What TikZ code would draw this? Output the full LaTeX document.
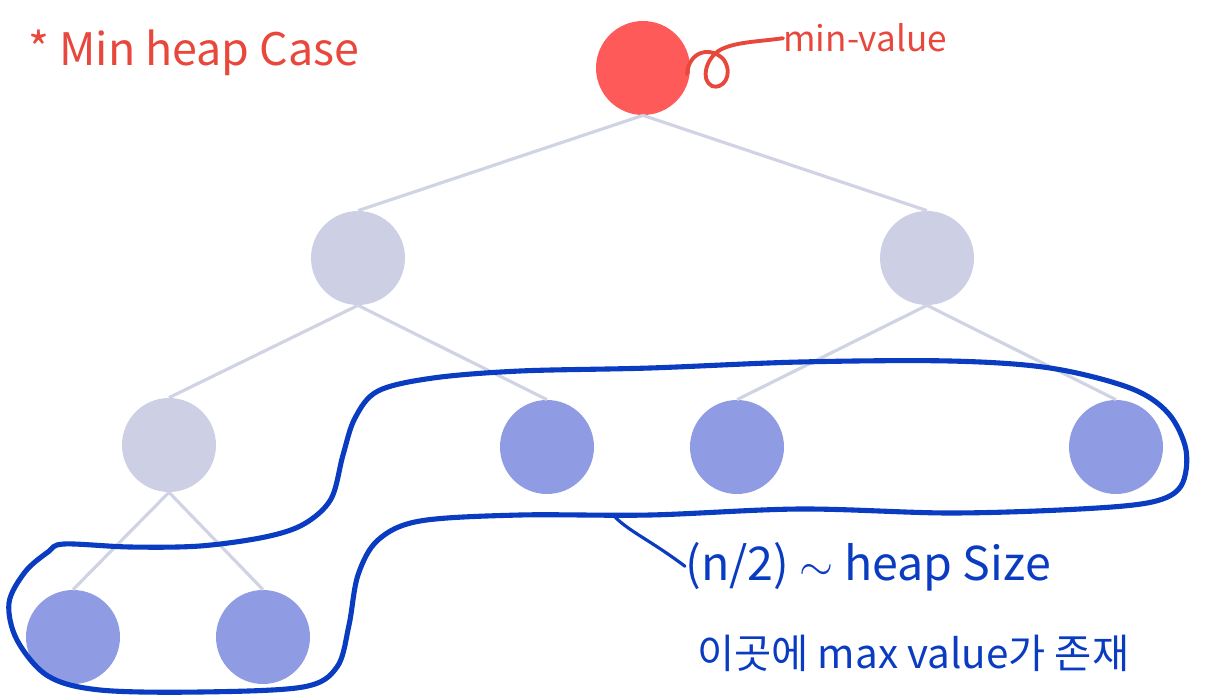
\documentclass[tikz,border=0pt]{standalone}
\usepackage{fontspec}
\setmainfont{Noto Sans CJK KR}
\definecolor{rootred}{HTML}{FF5A5A}
\definecolor{inner}{HTML}{CDD0E4}
\definecolor{leaf}{HTML}{8F9BE2}
\definecolor{edgec}{HTML}{D0D3E4}
\definecolor{pen}{HTML}{0A3CC2}
\definecolor{redpen}{HTML}{E8473C}
\begin{document}
\begin{tikzpicture}[x=0.02cm,y=-0.02cm,
  heapnode/.style={circle,inner sep=0pt,minimum size=1.88cm},
  tedge/.style={draw=edgec,line width=1.8pt},
  redtxt/.style={text=redpen,inner sep=0pt},
  bluetxt/.style={text=pen,inner sep=0pt},
  bluepen/.style={draw=pen,line width=2.9pt,line cap=round,line join=round},
  redpenline/.style={draw=redpen,line width=2.2pt,line cap=round}]
\useasboundingbox (0,0) rectangle (1229,699);
% nodes
\node[heapnode,fill=rootred] (r) at (643,68) {};
\node[heapnode,fill=inner] (a) at (358,258) {};
\node[heapnode,fill=inner] (b) at (927,258) {};
\node[heapnode,fill=inner] (c) at (169,445) {};
\node[heapnode,fill=leaf] (d) at (547,447) {};
\node[heapnode,fill=leaf] (e) at (737,447) {};
\node[heapnode,fill=leaf] (f) at (1116,447) {};
\node[heapnode,fill=leaf] (g) at (73,637) {};
\node[heapnode,fill=leaf] (h) at (263,637) {};
% edges
\path[tedge] (r.south) -- (a.north) (r.south) -- (b.north)
  (a.south) -- (c.north) (a.south) -- (d.north)
  (b.south) -- (e.north) (b.south) -- (f.north)
  (c.south) -- (g.north) (c.south) -- (h.north);
% texts
\node[redtxt,anchor=base west,font=\fontsize{25.5}{28}\selectfont] (title) at (28,66) {* Min heap Case};
\node[redtxt,anchor=base west,font=\fontsize{20}{22}\selectfont] (minlab) at (783,52) {min-value};
\node[bluetxt,anchor=base west,font=\fontsize{26.5}{30}\selectfont] (range) at (685,580) {(n/2) $\sim$ heap Size};
\node[bluetxt,anchor=base west,font=\fontsize{23}{26}\selectfont] (maxlab) at (697,668) {이곳에 max value가 존재};
% curly connector root -> min-value
\coordinate (rc) at (687,74);
\draw[redpenline] (rc) .. controls (689,50) and (712,46) .. (724,60)
  .. controls (734,76) and (722,90) .. (712,86)
  .. controls (700,80) and (706,58) .. (720,50)
  .. controls (735,42) and (755,42) .. (minlab.west);
% outline around leaves
\draw[bluepen] plot[smooth cycle,tension=0.55] coordinates {
 (64,544) (130,547) (200,546) (265,537) (304,524) (331,499) (343,455) (355,418) (378,391)
 (433,378) (520,371) (650,368) (800,362) (950,361) (1050,368) (1130,388) (1168,413)
 (1186,450) (1181,486) (1152,502) (1080,509) (950,513) (800,509) (650,515) (520,515)
 (420,521) (378,540) (358,575) (349,625) (337,667) (303,687) (200,692) (100,690)
 (48,676) (17,640) (9,603) (25,572) (48,552)};
% pointer to range label
\coordinate (p1) at (615,517);
\draw[bluepen,line width=1.8pt] (p1) .. controls (630,532) and (650,540) .. (range.west);
\end{tikzpicture}
\end{document}
